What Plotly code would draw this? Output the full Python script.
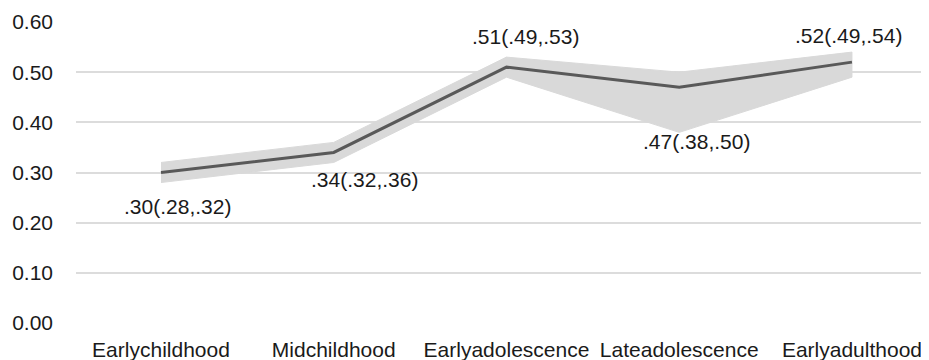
import plotly.graph_objects as go

categories = ["Earlychildhood", "Midchildhood", "Earlyadolescence", "Lateadolescence", "Earlyadulthood"]
estimate = [0.30, 0.34, 0.51, 0.47, 0.52]
ci_lower = [0.28, 0.32, 0.49, 0.38, 0.49]
ci_upper = [0.32, 0.36, 0.53, 0.50, 0.54]
labels = [".30(.28,.32)", ".34(.32,.36)", ".51(.49,.53)", ".47(.38,.50)", ".52(.49,.54)"]
label_shift = [(17, -34), (31, -27), (19, 31), (17, -54), (-3, 27)]

FONT = "Liberation Sans, Arial, sans-serif"
FS = 21
xi = list(range(len(categories)))

fig = go.Figure()
fig.add_trace(go.Scatter(
    x=xi + xi[::-1], y=ci_upper + ci_lower[::-1],
    fill="toself", fillcolor="#d9d9d9", mode="lines",
    line=dict(color="#d9d9d9", width=1), hoverinfo="skip", showlegend=False))
fig.add_trace(go.Scatter(
    x=xi, y=estimate, mode="lines",
    line=dict(color="#595959", width=3), showlegend=False))

for i, (lab, (dx, dy)) in enumerate(zip(labels, label_shift)):
    fig.add_annotation(x=xi[i], y=estimate[i], text=lab, showarrow=False,
                       xshift=dx, yshift=dy,
                       font=dict(family=FONT, size=FS, color="#1a1a1a"))

fig.update_layout(
    width=921, height=352,
    margin=dict(l=68, r=0, t=14, b=37, autoexpand=False),
    paper_bgcolor="white", plot_bgcolor="white",
    font=dict(family=FONT, size=FS, color="#1a1a1a"),
    showlegend=False,
)
fig.update_xaxes(
    range=[-0.492, 4.446], tickmode="array", tickvals=xi, ticktext=categories,
    showgrid=False, zeroline=False, showline=False, ticks="", automargin=False,
    ticklabelstandoff=12,
    tickfont=dict(family=FONT, size=FS, color="#1a1a1a"))
fig.update_yaxes(
    range=[0, 0.6], tickvals=[0, 0.1, 0.2, 0.3, 0.4, 0.5, 0.6], tickformat=".2f",
    showgrid=True, gridcolor="#dcdcdc", gridwidth=1.5, zeroline=False,
    showline=False, ticks="", ticklabelstandoff=22, automargin=False,
    tickfont=dict(family=FONT, size=FS, color="#1a1a1a"))

fig.write_html("out.html")
